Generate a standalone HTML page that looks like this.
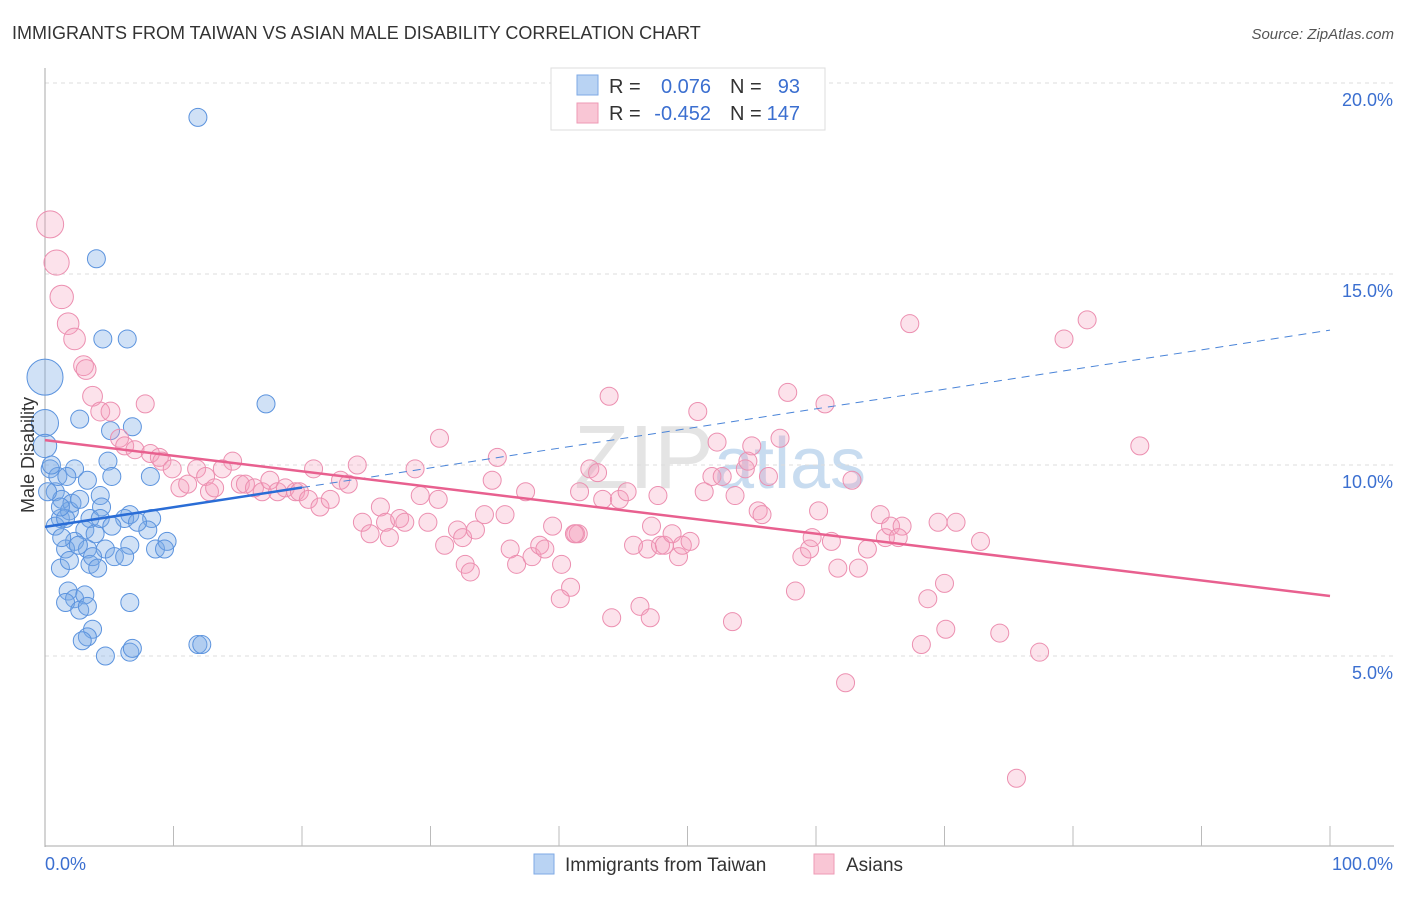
<!DOCTYPE html>
<html><head><meta charset="utf-8"><style>
body{margin:0;background:#fff;font-family:"Liberation Sans",sans-serif;}
svg text{font-family:"Liberation Sans",sans-serif;}
</style></head><body>
<svg width="1406" height="892" xmlns="http://www.w3.org/2000/svg">
<text x="12" y="39" font-size="18" fill="#333">IMMIGRANTS FROM TAIWAN VS ASIAN MALE DISABILITY CORRELATION CHART</text>
<text x="1394" y="39" font-size="15" fill="#555" font-style="italic" text-anchor="end">Source: ZipAtlas.com</text>
<text x="720" y="488" font-size="90" fill="#e4e4e4" text-anchor="middle" font-family="Liberation Serif">ZIP<tspan fill="#c8dcf0" font-family="Liberation Sans" font-size="72">atlas</tspan></text>
<g id="grid"></g><g id="axes"></g><g id="pts"></g><g id="lines"></g>
<text x="34" y="455" font-size="18" fill="#333" text-anchor="middle" transform="rotate(-90 34 455)">Male Disability</text>
<g>
<rect x="551" y="68" width="274" height="62" fill="#fff" stroke="#ddd"/>
<rect x="577" y="75" width="21" height="20" fill="#b9d3f3" stroke="#7eaae6"/>
<rect x="577" y="103" width="21" height="20" fill="#f9c6d5" stroke="#ee9ab5"/>
<text x="609" y="93" font-size="20" fill="#333">R =</text><text x="711" y="93" font-size="20" fill="#3b6fd0" text-anchor="end">0.076</text>
<text x="730" y="93" font-size="20" fill="#333">N =</text><text x="800" y="93" font-size="20" fill="#3b6fd0" text-anchor="end">93</text>
<text x="609" y="120" font-size="20" fill="#333">R =</text><text x="711" y="120" font-size="20" fill="#3b6fd0" text-anchor="end">-0.452</text>
<text x="730" y="120" font-size="20" fill="#333">N =</text><text x="800" y="120" font-size="20" fill="#3b6fd0" text-anchor="end">147</text>
</g>
<g>
<rect x="534" y="854" width="20" height="20" fill="#b9d3f3" stroke="#7eaae6"/>
<text x="565" y="871" font-size="19" fill="#333">Immigrants from Taiwan</text>
<rect x="814" y="854" width="20" height="20" fill="#f9c6d5" stroke="#ee9ab5"/>
<text x="846" y="871" font-size="19" fill="#333">Asians</text>
</g>
</svg>
<script>
const yTicks=[5,10,15,20];
const yTickLabels=["5.0%","10.0%","15.0%","20.0%"];
const xTickLabels=["0.0%","100.0%"];
const blueX=[11.9,4.0,4.5,6.4,17.2,0,0,2.7,5.1,6.8,0,8.2,2.3,4.9,3.3,5.2,0.4,0.8,1.3,4.3,6.6,8.3,6.2,4.4,1.2,1.9,3.5,3.1,0.8,2.3,3.3,1.6,4.7,6.6,8.6,9.5,9.3,8.0,5.4,6.2,1.2,1.9,3.5,1.8,2.3,3.1,1.6,2.7,3.3,6.6,3.7,3.3,2.9,4.7,6.6,6.8,11.9,12.2,1.6,2.1,2.7,3.9,4.3,1.0,0.5,0.2,2.6,3.7,1.3,4.1,5.2,7.2,1.2,1.7];
const blueY=[19.1,15.4,13.3,13.3,11.6,12.3,11.1,11.2,10.9,11.0,10.5,9.7,9.9,10.1,9.6,9.7,9.9,9.3,9.1,9.2,8.7,8.6,8.6,8.9,8.6,8.8,8.6,8.3,8.4,8.0,7.8,7.8,7.8,7.9,7.8,8.0,7.8,8.3,7.6,7.6,7.3,7.5,7.4,6.7,6.5,6.6,6.4,6.2,6.3,6.4,5.7,5.5,5.4,5.0,5.1,5.2,5.3,5.3,8.6,9.0,9.1,8.2,8.6,9.7,10.0,9.3,7.9,7.6,8.1,7.3,8.4,8.5,8.9,9.7];
const blueSize=[1,1,1,1,1,2,1.5,1,1,1,1.3];
const pinkX=[0.4,0.9,1.3,1.8,2.3,3.0,3.2,3.7,4.3,5.1,7.8,5.8,6.2,7.0,8.2,8.9,9.1,9.9,10.5,11.1,11.8,12.5,12.8,13.2,14.6,13.8,15.2,15.6,16.3,16.9,17.5,18.1,18.7,19.5,19.8,20.5,20.9,21.4,22.2,23.0,23.6,24.3,24.7,25.3,26.1,26.5,26.8,27.6,28.0,28.8,29.2,29.8,30.6,30.7,31.1,32.1,32.5,32.7,33.1,33.5,34.2,34.8,35.2,35.8,36.2,36.7,37.4,37.9,38.5,38.9,39.5,40.2,40.9,41.3,41.5,40.1,41.6,42.4,43.0,43.4,43.9,44.1,44.7,45.3,45.8,46.3,46.9,47.2,47.7,47.9,48.2,48.8,49.3,49.6,50.2,50.8,51.3,51.9,52.3,52.7,53.5,53.7,54.5,54.7,55.0,55.5,55.8,56.3,57.2,57.8,58.4,58.9,59.5,59.7,60.2,60.7,61.2,61.7,62.3,62.8,63.3,64.0,65.0,65.4,65.8,66.7,66.4,67.3,68.2,68.7,69.5,70.1,70.0,70.9,72.8,74.3,75.6,77.4,79.3,81.1,85.2,47.1,41.2];
const pinkY=[16.3,15.3,14.4,13.7,13.3,12.6,12.5,11.8,11.4,11.4,11.6,10.7,10.5,10.4,10.3,10.2,10.1,9.9,9.4,9.5,9.9,9.7,9.3,9.4,10.1,9.9,9.5,9.5,9.4,9.3,9.6,9.3,9.4,9.3,9.3,9.1,9.9,8.9,9.1,9.6,9.5,10.0,8.5,8.2,8.9,8.5,8.1,8.6,8.5,9.9,9.2,8.5,9.1,10.7,7.9,8.3,8.1,7.4,7.2,8.3,8.7,9.6,10.2,8.7,7.8,7.4,9.3,7.6,7.9,7.8,8.4,7.4,6.8,8.2,8.2,6.5,9.3,9.9,9.8,9.1,11.8,6.0,9.1,9.3,7.9,6.3,7.8,8.4,9.2,7.9,7.9,8.2,7.6,7.9,8.0,11.4,9.3,9.7,10.6,9.7,5.9,9.2,9.9,10.1,10.5,8.8,8.7,9.7,10.7,11.9,6.7,7.6,7.8,8.1,8.8,11.6,8.0,7.3,4.3,9.6,7.3,7.8,8.7,8.1,8.4,8.4,8.1,13.7,5.3,6.5,8.5,5.7,6.9,8.5,8.0,5.6,1.8,5.1,13.3,13.8,10.5,6.0,8.2];
const pinkSize=[1.5,1.4,1.3,1.2,1.2,1.1,1.1,1.1,1.05,1.05];
const blueTrend=[8.38,13.53], pinkTrend=[10.65,6.57];
const X=v=>45+v*12.85, Y=v=>656-(v-5)*38.2;
const NS="http://www.w3.org/2000/svg";
function mk(t,a,p){const e=document.createElementNS(NS,t);for(const k in a)e.setAttribute(k,a[k]);p.appendChild(e);return e;}
const gridG=document.getElementById('grid'),axesG=document.getElementById('axes'),ptsG=document.getElementById('pts'),linesG=document.getElementById('lines');
yTicks.forEach((v,i)=>{
 const l=mk('line',{x1:45,x2:1394,y1:Y(v),y2:Y(v),stroke:'#ddd','stroke-dasharray':'4,4'},gridG);
 
 
 const t=mk('text',{x:1393,y:Y(v)+23,'font-size':18,fill:'#3b6fd0','text-anchor':'end'},axesG);
 t.textContent=yTickLabels[i];
 
 
});
const ya=mk('line',{x1:45,x2:45,y1:68,y2:847,stroke:'#aaa'},axesG);


const xa=mk('line',{x1:45,x2:1394,y1:846,y2:846,stroke:'#aaa'},axesG);


for(let i=1;i<=10;i++){const tk=mk('line',{x1:X(i*10),x2:X(i*10),y1:826,y2:846,stroke:'#bbb'},axesG);
 
 }
[[0,45,'start'],[1,1393,'end']].forEach(([i,x,a])=>{const t=mk('text',{x:x,y:870,'font-size':18,fill:'#3b6fd0','text-anchor':a},axesG);t.textContent=xTickLabels[i];
 
 });
blueX.forEach((x,i)=>{const c=mk('circle',{cx:X(x),cy:Y(blueY[i]),r:9*(blueSize[i]||1),fill:'rgba(120,170,230,0.35)',stroke:'#5b93de','stroke-width':1},ptsG);
 
 });
pinkX.forEach((x,i)=>{const c=mk('circle',{cx:X(x),cy:Y(pinkY[i]),r:9*(pinkSize[i]||1),fill:'rgba(245,160,190,0.3)',stroke:'#ec8fb0','stroke-width':1},ptsG);
 
 });
const by=x=>blueTrend[0]+(blueTrend[1]-blueTrend[0])*x/100;
const b1=mk('line',{x1:X(0),y1:Y(by(0)),x2:X(20),y2:Y(by(20)),stroke:'#2a6dd6','stroke-width':2.5},linesG);


const b2=mk('line',{x1:X(20),y1:Y(by(20)),x2:X(100),y2:Y(by(100)),stroke:'#4a84d8','stroke-width':1,'stroke-dasharray':'8,6'},linesG);


const p1=mk('line',{x1:X(0),y1:Y(pinkTrend[0]),x2:X(100),y2:Y(pinkTrend[1]),stroke:'#e8608f','stroke-width':2.5},linesG);


const topGrid=mk('line',{x1:45,x2:1394,y1:Y(20),y2:Y(20),stroke:'#ddd','stroke-dasharray':'4,4'},gridG);


</script>
</body></html>
